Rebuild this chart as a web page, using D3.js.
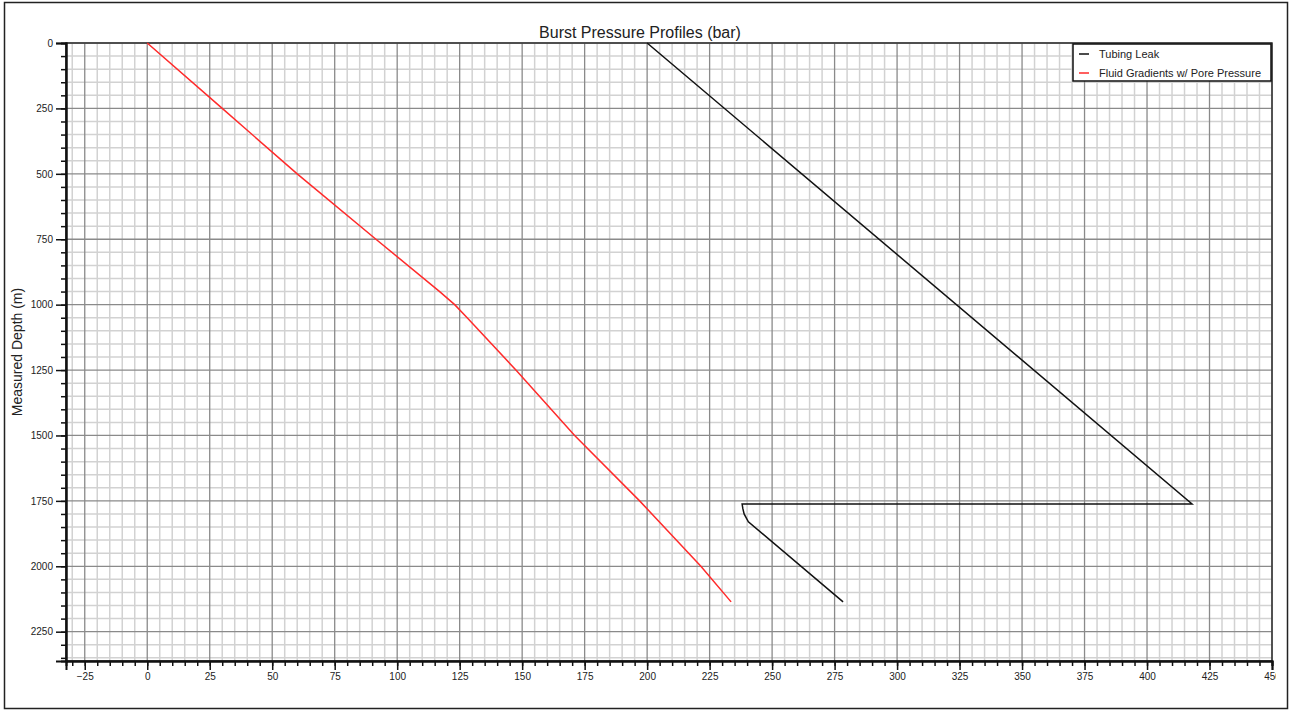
<!DOCTYPE html>
<html>
<head>
<meta charset="utf-8">
<script src="https://cdn.jsdelivr.net/npm/d3@7"></script>
<style>
  body { margin: 0; background: #fff; }
  text { font-family: "Liberation Sans", Arial, sans-serif; fill: #222; }
</style>
</head>
<body>
<script>
// Chart data
var tubingPressure = [200, 418, 238, 238.3, 238.8, 240.5, 278.4];
var tubingDepth = [0, 1762, 1762, 1780, 1800, 1830, 2136];
var fluidPressure = [0, 30, 60, 91.5, 117, 123, 128, 147.5, 171, 197, 221.5, 233.6];
var fluidDepth = [0, 250, 500, 750, 950, 1000, 1050, 1250, 1500, 1750, 2000, 2136];
var xTicks = d3.range(-25, 451, 25);
var yTicks = d3.range(0, 2251, 250);
var legendLabels = ["Tubing Leak", "Fluid Gradients w/ Pore Pressure"];
var seriesColors = ["#111", "#ff2a2a"];

// Define SVG area dimensions
var svgWidth = 1292;
var svgHeight = 712;

var margin = {
  top: 43,
  right: 20,
  bottom: 51,
  left: 66
};

var width = svgWidth - margin.left - margin.right;
var height = svgHeight - margin.top - margin.bottom;

var svg = d3.select("body")
  .append("svg")
  .attr("width", svgWidth)
  .attr("height", svgHeight);

// outer frame
svg.append("rect")
  .attr("x", 4.5)
  .attr("y", 2.5)
  .attr("width", 1283)
  .attr("height", 706)
  .attr("fill", "none")
  .attr("stroke", "#222")
  .attr("stroke-width", 1.5);

var chartGroup = svg.append("g")
  .attr("transform", `translate(${margin.left}, ${margin.top})`);

// Create scale functions
var xLinearScale = d3.scaleLinear()
  .domain([-32.5, 450])
  .range([0, width]);

var yLinearScale = d3.scaleLinear()
  .domain([0, 2362])
  .range([0, height]);

// minor grid
chartGroup.append("g").selectAll("line")
  .data(d3.range(-30, 451, 5).filter(d => d % 25 != 0))
  .enter().append("line")
  .attr("x1", d => xLinearScale(d)).attr("x2", d => xLinearScale(d))
  .attr("y1", 0).attr("y2", height)
  .attr("stroke", "#d2d2d2").attr("stroke-width", 1.5);

chartGroup.append("g").selectAll("line")
  .data(d3.range(50, 2362, 50).filter(d => d % 250 != 0))
  .enter().append("line")
  .attr("y1", d => yLinearScale(d)).attr("y2", d => yLinearScale(d))
  .attr("x1", 0).attr("x2", width)
  .attr("stroke", "#d2d2d2").attr("stroke-width", 1.5);

// major grid
chartGroup.append("g").selectAll("line")
  .data(xTicks)
  .enter().append("line")
  .attr("x1", d => xLinearScale(d)).attr("x2", d => xLinearScale(d))
  .attr("y1", 0).attr("y2", height)
  .attr("stroke", "#8a8a8a").attr("stroke-width", 1.3);

chartGroup.append("g").selectAll("line")
  .data(yTicks)
  .enter().append("line")
  .attr("y1", d => yLinearScale(d)).attr("y2", d => yLinearScale(d))
  .attr("x1", 0).attr("x2", width)
  .attr("stroke", "#8a8a8a").attr("stroke-width", 1.3);

// plot border
chartGroup.append("rect")
  .attr("width", width)
  .attr("height", height)
  .attr("fill", "none")
  .attr("stroke", "#333")
  .attr("stroke-width", 1.5);

// Create axis functions
var bottomAxis = d3.axisBottom(xLinearScale).tickValues(xTicks).tickSize(9).tickPadding(3)
  .tickFormat(d3.format("d"));
var leftAxis = d3.axisLeft(yLinearScale).tickValues(yTicks).tickSize(10).tickPadding(3)
  .tickFormat(d3.format("d"));

var bottomMinor = d3.axisBottom(xLinearScale)
  .tickValues(d3.range(-30, 451, 5)).tickSize(5).tickFormat("");
var leftMinor = d3.axisLeft(yLinearScale)
  .tickValues(d3.range(50, 2362, 50)).tickSize(5).tickFormat("");

// clip for the cut-off 450 label
svg.append("clipPath").attr("id", "xclip")
  .append("rect").attr("x", -20).attr("y", -5).attr("width", width + 24).attr("height", 40);

var xAxis = chartGroup.append("g")
  .attr("transform", `translate(0, ${height})`)
  .attr("clip-path", "url(#xclip)")
  .call(bottomAxis);
chartGroup.append("g")
  .attr("transform", `translate(0, ${height})`)
  .call(bottomMinor);

var yAxis = chartGroup.append("g").call(leftAxis);
chartGroup.append("g").call(leftMinor);

chartGroup.selectAll(".domain").attr("stroke", "#111").attr("stroke-width", 2);
chartGroup.selectAll(".tick line").attr("stroke", "#111").attr("stroke-width", 1.5);
chartGroup.selectAll(".tick text")
  .style("font-size", "10px")
  .style("font-family", "'Liberation Sans', Arial, sans-serif")
  .attr("fill", "#222");

// lines
var line = d3.line()
  .x(d => xLinearScale(d[0]))
  .y(d => yLinearScale(d[1]));

chartGroup.append("path")
  .datum(fluidPressure.map((p, i) => [p, fluidDepth[i]]))
  .attr("d", line)
  .attr("fill", "none")
  .attr("stroke", seriesColors[1])
  .attr("stroke-width", 1.5);

chartGroup.append("path")
  .datum(tubingPressure.map((p, i) => [p, tubingDepth[i]]))
  .attr("d", line)
  .attr("fill", "none")
  .attr("stroke", seriesColors[0])
  .attr("stroke-width", 1.5);

// title and axis label
svg.append("text")
  .attr("x", 640)
  .attr("y", 38)
  .attr("text-anchor", "middle")
  .style("font-size", "16px")
  .text("Burst Pressure Profiles (bar)");

svg.append("text")
  .attr("transform", "translate(22, 352) rotate(-90)")
  .attr("text-anchor", "middle")
  .style("font-size", "14px")
  .text("Measured Depth (m)");

// legend
var legend = svg.append("g").attr("transform", "translate(1073, 44)");
legend.append("rect")
  .attr("width", 198)
  .attr("height", 37)
  .attr("fill", "#fff")
  .attr("stroke", "#111")
  .attr("stroke-width", 1.5);

legendLabels.forEach(function(label, i) {
  legend.append("line")
    .attr("x1", 6).attr("x2", 16)
    .attr("y1", 10 + i * 19).attr("y2", 10 + i * 19)
    .attr("stroke", seriesColors[i])
    .attr("stroke-width", 1.5);
  legend.append("text")
    .attr("x", 26)
    .attr("y", 14 + i * 19)
    .style("font-size", "11px")
    .text(label);
});
</script>
</body>
</html>
